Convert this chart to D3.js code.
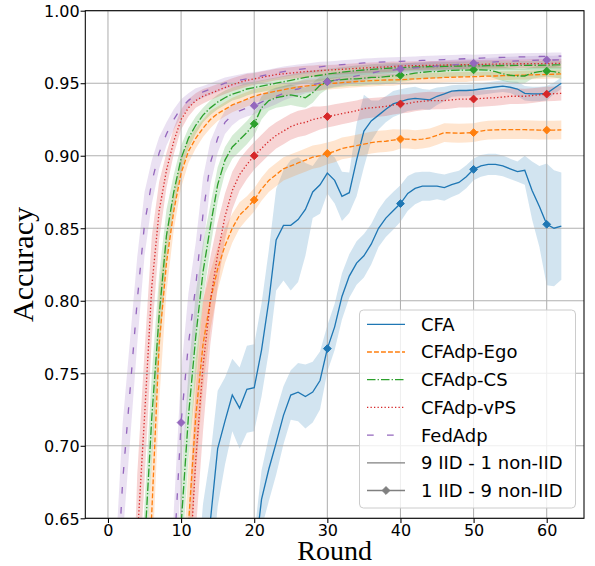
<!DOCTYPE html>
<html>
<head>
<meta charset="utf-8">
<script src="https://cdn.jsdelivr.net/npm/d3@7"></script>
<style>
  body { margin: 0; background: #fff; }
  svg { display: block; }
</style>
</head>
<body>
<svg id="chart" width="595" height="566"></svg>
<script>
// Communication rounds 0..62
const rounds = d3.range(0, 63);

// Mean accuracy and standard deviation per round.
// "IID" = 9 IID - 1 non-IID, "Non" = 1 IID - 9 non-IID
const cfaIID = [
  0.10, 0.12, 0.15, 0.18, 0.22, 0.26, 0.30, 0.35, 0.40, 0.44,
  0.48, 0.51, 0.55, 0.61, 0.648, 0.698, 0.717, 0.735, 0.726, 0.739,
  0.740, 0.766, 0.800, 0.842, 0.852, 0.852, 0.856, 0.863, 0.875, 0.880,
  0.888, 0.883, 0.872, 0.8745, 0.897, 0.917, 0.924, 0.928, 0.932, 0.9357,
  0.9373, 0.9389, 0.9396, 0.939, 0.9385, 0.941, 0.9426, 0.9446, 0.945, 0.945,
  0.9453, 0.946, 0.9467, 0.9474, 0.948, 0.9472, 0.946, 0.943, 0.9426, 0.9426,
  0.943, 0.9465, 0.950
];
const cfaIIDsd = [
  0.02, 0.02, 0.02, 0.02, 0.02, 0.02, 0.02, 0.02, 0.02, 0.02,
  0.03, 0.04, 0.05, 0.05, 0.045, 0.04, 0.03, 0.025, 0.028, 0.03,
  0.03, 0.032, 0.035, 0.035, 0.038, 0.045, 0.043, 0.032, 0.018, 0.02,
  0.014, 0.016, 0.017, 0.014, 0.025, 0.025, 0.014, 0.01, 0.009, 0.009,
  0.0085, 0.008, 0.008, 0.007, 0.007, 0.006, 0.005, 0.004, 0.004, 0.004,
  0.004, 0.004, 0.004, 0.004, 0.004, 0.004, 0.005, 0.005, 0.005, 0.005,
  0.005, 0.004, 0.004
];
const cfaNon = [
  0.10, 0.12, 0.14, 0.17, 0.20, 0.23, 0.26, 0.29, 0.32, 0.35,
  0.38, 0.41, 0.44, 0.46, 0.48, 0.50, 0.52, 0.54, 0.56, 0.58,
  0.62, 0.663, 0.684, 0.702, 0.721, 0.735, 0.737, 0.734, 0.737, 0.745,
  0.767, 0.782, 0.803, 0.817, 0.826, 0.831, 0.839, 0.850, 0.857, 0.862,
  0.867, 0.874, 0.8775, 0.879, 0.879, 0.879, 0.878, 0.880, 0.8816, 0.8855,
  0.8906, 0.893, 0.894, 0.894, 0.893, 0.891, 0.889, 0.890, 0.876, 0.865,
  0.8527, 0.850, 0.8515
];
const cfaNonSd = [
  0.015, 0.015, 0.015, 0.015, 0.015, 0.015, 0.015, 0.015, 0.015, 0.015,
  0.015, 0.015, 0.015, 0.015, 0.015, 0.015, 0.015, 0.015, 0.015, 0.015,
  0.018, 0.02, 0.022, 0.022, 0.02, 0.017, 0.02, 0.022, 0.021, 0.02,
  0.016, 0.016, 0.016, 0.015, 0.015, 0.015, 0.014, 0.013, 0.013, 0.013,
  0.0126, 0.012, 0.011, 0.01, 0.01, 0.009, 0.009, 0.0085, 0.008, 0.008,
  0.0075, 0.0075, 0.0073, 0.0073, 0.0072, 0.007, 0.007, 0.01, 0.02, 0.028,
  0.042, 0.04, 0.037
];

const egoIID = [
  0.10, 0.15, 0.22, 0.32, 0.43, 0.55, 0.655, 0.77, 0.826, 0.862,
  0.888, 0.903, 0.912, 0.919, 0.925, 0.929, 0.932, 0.935, 0.937, 0.939,
  0.941, 0.9425, 0.9435, 0.9445, 0.9455, 0.9465, 0.9473, 0.948, 0.9485, 0.949,
  0.9495, 0.950, 0.9504, 0.9508, 0.9512, 0.9515, 0.9518, 0.952, 0.9522, 0.9523,
  0.9524, 0.9527, 0.953, 0.9532, 0.9535, 0.9537, 0.954, 0.9541, 0.9543, 0.9544,
  0.9545, 0.9547, 0.9549, 0.955, 0.9552, 0.9553, 0.9555, 0.9556, 0.9558, 0.9559,
  0.956, 0.9562, 0.9565
];
const egoIIDsd = [
  0.03, 0.03, 0.03, 0.03, 0.035, 0.04, 0.04, 0.04, 0.02, 0.013,
  0.01, 0.008, 0.007, 0.006, 0.006, 0.005, 0.005, 0.005, 0.005, 0.005,
  0.005, 0.0045, 0.0045, 0.0045, 0.0045, 0.004, 0.004, 0.004, 0.004, 0.004,
  0.004, 0.004, 0.004, 0.004, 0.004, 0.004, 0.004, 0.004, 0.004, 0.004,
  0.0035, 0.0035, 0.0035, 0.0035, 0.0035, 0.0035, 0.0035, 0.0035, 0.0035, 0.0035,
  0.003, 0.003, 0.003, 0.003, 0.003, 0.003, 0.003, 0.003, 0.003, 0.003,
  0.003, 0.003, 0.003
];
const egoNon = [
  0.10, 0.12, 0.15, 0.18, 0.22, 0.27, 0.32, 0.37, 0.42, 0.48,
  0.56, 0.645, 0.72, 0.77, 0.80, 0.822, 0.838, 0.85, 0.859, 0.864,
  0.8695, 0.877, 0.883, 0.887, 0.891, 0.893, 0.895, 0.897, 0.899, 0.900,
  0.9016, 0.903, 0.905, 0.906, 0.907, 0.908, 0.909, 0.9097, 0.910, 0.9108,
  0.9115, 0.9115, 0.911, 0.9115, 0.9123, 0.914, 0.9159, 0.9157, 0.9155, 0.9157,
  0.9159, 0.917, 0.9177, 0.9178, 0.918, 0.918, 0.918, 0.918, 0.9178, 0.9177,
  0.9177, 0.9177, 0.9178
];
const egoNonSd = [
  0.03, 0.03, 0.03, 0.03, 0.03, 0.03, 0.03, 0.03, 0.03, 0.035,
  0.04, 0.04, 0.04, 0.03, 0.02, 0.015, 0.012, 0.01, 0.009, 0.008,
  0.008, 0.008, 0.008, 0.008, 0.008, 0.008, 0.008, 0.008, 0.008, 0.008,
  0.0075, 0.0075, 0.0075, 0.0075, 0.0075, 0.0075, 0.0075, 0.0075, 0.0075, 0.0075,
  0.0065, 0.0065, 0.0065, 0.0065, 0.0065, 0.0065, 0.0065, 0.0065, 0.0065, 0.0065,
  0.0065, 0.0065, 0.0065, 0.0065, 0.0065, 0.0065, 0.0065, 0.0065, 0.0065, 0.0065,
  0.0065, 0.0065, 0.0065
];

const csIID = [
  0.10, 0.18, 0.28, 0.40, 0.52, 0.63, 0.72, 0.79, 0.845, 0.875,
  0.898, 0.912, 0.921, 0.928, 0.933, 0.937, 0.940, 0.9425, 0.944, 0.946,
  0.947, 0.948, 0.949, 0.950, 0.951, 0.952, 0.953, 0.954, 0.9548, 0.9555,
  0.9563, 0.957, 0.9576, 0.9582, 0.9587, 0.9591, 0.9595, 0.9599, 0.9602, 0.9605,
  0.9608, 0.961, 0.9612, 0.9613, 0.9614, 0.9615, 0.9616, 0.9617, 0.9618, 0.9619,
  0.962, 0.962, 0.9621, 0.9621, 0.9622, 0.9622, 0.9623, 0.9623, 0.9624, 0.9624,
  0.9625, 0.9626, 0.9627
];
const csIIDsd = [
  0.03, 0.03, 0.03, 0.03, 0.03, 0.03, 0.03, 0.028, 0.018, 0.012,
  0.009, 0.007, 0.006, 0.005, 0.005, 0.005, 0.005, 0.0045, 0.0045, 0.0045,
  0.004, 0.004, 0.004, 0.004, 0.004, 0.004, 0.004, 0.004, 0.004, 0.004,
  0.0035, 0.0035, 0.0035, 0.0035, 0.0035, 0.0035, 0.0035, 0.0035, 0.0035, 0.0035,
  0.003, 0.003, 0.003, 0.003, 0.003, 0.003, 0.003, 0.003, 0.003, 0.003,
  0.003, 0.003, 0.003, 0.003, 0.003, 0.003, 0.003, 0.003, 0.003, 0.003,
  0.003, 0.003, 0.003
];
const csNon = [
  0.10, 0.12, 0.15, 0.18, 0.22, 0.26, 0.30, 0.35, 0.40, 0.52,
  0.645, 0.72, 0.775, 0.82, 0.851, 0.88, 0.897, 0.906, 0.911, 0.916,
  0.922, 0.933, 0.938, 0.940, 0.941, 0.942, 0.941, 0.940, 0.9435, 0.9485,
  0.951, 0.952, 0.9525, 0.953, 0.953, 0.9535, 0.954, 0.954, 0.9545, 0.955,
  0.9555, 0.956, 0.957, 0.9575, 0.958, 0.958, 0.9585, 0.9588, 0.959, 0.959,
  0.9592, 0.9592, 0.959, 0.958, 0.9565, 0.9555, 0.955, 0.955, 0.957, 0.958,
  0.9584, 0.958, 0.957
];
const csNonSd = [
  0.03, 0.03, 0.03, 0.03, 0.03, 0.03, 0.03, 0.03, 0.03, 0.03,
  0.03, 0.03, 0.03, 0.02, 0.015, 0.012, 0.009, 0.008, 0.008, 0.008,
  0.008, 0.008, 0.007, 0.007, 0.007, 0.007, 0.007, 0.007, 0.007, 0.006,
  0.005, 0.005, 0.005, 0.005, 0.005, 0.005, 0.005, 0.005, 0.005, 0.005,
  0.0045, 0.0045, 0.0045, 0.0045, 0.0045, 0.0045, 0.0045, 0.0045, 0.0045, 0.0045,
  0.004, 0.004, 0.004, 0.005, 0.005, 0.005, 0.005, 0.005, 0.004, 0.004,
  0.004, 0.004, 0.004
];

const vpsIID = [
  0.10, 0.20, 0.32, 0.48, 0.635, 0.72, 0.81, 0.862, 0.89, 0.91,
  0.925, 0.933, 0.938, 0.941, 0.943, 0.945, 0.947, 0.949, 0.9505, 0.952,
  0.953, 0.954, 0.955, 0.956, 0.9565, 0.957, 0.9575, 0.958, 0.9583, 0.9587,
  0.959, 0.9593, 0.9596, 0.9599, 0.9602, 0.9605, 0.9608, 0.961, 0.9612, 0.9615,
  0.9618, 0.962, 0.9621, 0.9622, 0.9623, 0.9624, 0.9625, 0.9626, 0.9627, 0.9628,
  0.963, 0.963, 0.9631, 0.9632, 0.9633, 0.9633, 0.9634, 0.9634, 0.9635, 0.9635,
  0.9635, 0.9636, 0.9637
];
const vpsIIDsd = [
  0.04, 0.04, 0.04, 0.045, 0.045, 0.045, 0.035, 0.02, 0.012, 0.009,
  0.007, 0.006, 0.005, 0.005, 0.0045, 0.0045, 0.0045, 0.0045, 0.0045, 0.0045,
  0.004, 0.004, 0.004, 0.004, 0.004, 0.004, 0.004, 0.004, 0.004, 0.004,
  0.0035, 0.0035, 0.0035, 0.0035, 0.0035, 0.0035, 0.0035, 0.0035, 0.0035, 0.0035,
  0.003, 0.003, 0.003, 0.003, 0.003, 0.003, 0.003, 0.003, 0.003, 0.003,
  0.003, 0.003, 0.003, 0.003, 0.003, 0.003, 0.003, 0.003, 0.003, 0.003,
  0.003, 0.003, 0.003
];
const vpsNon = [
  0.10, 0.12, 0.15, 0.18, 0.22, 0.26, 0.30, 0.35, 0.40, 0.45,
  0.52, 0.60, 0.69, 0.755, 0.80, 0.832, 0.858, 0.876, 0.887, 0.894,
  0.900, 0.905, 0.910, 0.914, 0.917, 0.920, 0.922, 0.923, 0.925, 0.926,
  0.927, 0.928, 0.929, 0.930, 0.931, 0.9325, 0.933, 0.9335, 0.934, 0.935,
  0.9357, 0.936, 0.937, 0.9375, 0.938, 0.938, 0.938, 0.9385, 0.939, 0.939,
  0.9391, 0.9395, 0.9398, 0.940, 0.9405, 0.941, 0.941, 0.941, 0.9415, 0.942,
  0.9425, 0.9428, 0.943
];
const vpsNonSd = [
  0.04, 0.04, 0.04, 0.04, 0.04, 0.04, 0.04, 0.04, 0.04, 0.04,
  0.045, 0.05, 0.05, 0.045, 0.03, 0.022, 0.016, 0.013, 0.011, 0.01,
  0.0095, 0.0095, 0.0095, 0.009, 0.009, 0.009, 0.009, 0.009, 0.009, 0.008,
  0.0075, 0.0075, 0.0073, 0.0072, 0.007, 0.007, 0.0068, 0.0067, 0.0066, 0.0065,
  0.0065, 0.0064, 0.0063, 0.0062, 0.0061, 0.006, 0.006, 0.006, 0.0058, 0.0058,
  0.0057, 0.0057, 0.0056, 0.0055, 0.0055, 0.0054, 0.0053, 0.0052, 0.0051, 0.005,
  0.005, 0.005, 0.005
];

const fedIID = [
  0.35, 0.58, 0.675, 0.737, 0.80, 0.853, 0.882, 0.902, 0.915, 0.925,
  0.933, 0.938, 0.942, 0.944, 0.946, 0.948, 0.950, 0.951, 0.952, 0.953,
  0.954, 0.955, 0.956, 0.957, 0.958, 0.9587, 0.9594, 0.960, 0.9606, 0.9613,
  0.962, 0.9624, 0.9628, 0.9632, 0.9636, 0.964, 0.9642, 0.9645, 0.9647, 0.9649,
  0.9651, 0.9653, 0.9655, 0.9657, 0.9659, 0.9661, 0.9663, 0.9665, 0.9667, 0.9669,
  0.9671, 0.9673, 0.9675, 0.9677, 0.9678, 0.968, 0.9681, 0.9682, 0.9683, 0.9684,
  0.9685, 0.9686, 0.9687
];
const fedIIDsd = [
  0.04, 0.04, 0.04, 0.035, 0.03, 0.022, 0.015, 0.011, 0.008, 0.007,
  0.006, 0.005, 0.0045, 0.004, 0.004, 0.004, 0.004, 0.004, 0.004, 0.004,
  0.0035, 0.0035, 0.0035, 0.0035, 0.0035, 0.0035, 0.0035, 0.0035, 0.0035, 0.0035,
  0.003, 0.003, 0.003, 0.003, 0.003, 0.003, 0.003, 0.003, 0.003, 0.003,
  0.003, 0.003, 0.003, 0.003, 0.003, 0.003, 0.003, 0.003, 0.003, 0.003,
  0.0025, 0.0025, 0.0025, 0.0025, 0.0025, 0.0025, 0.0025, 0.0025, 0.0025, 0.0025,
  0.0025, 0.0025, 0.0025
];
const fedNon = [
  0.10, 0.12, 0.15, 0.18, 0.22, 0.27, 0.33, 0.41, 0.50, 0.62,
  0.716, 0.77, 0.81, 0.86, 0.895, 0.912, 0.923, 0.928, 0.931, 0.933,
  0.9345, 0.937, 0.939, 0.941, 0.943, 0.945, 0.946, 0.948, 0.949, 0.950,
  0.951, 0.952, 0.953, 0.954, 0.955, 0.956, 0.957, 0.958, 0.9585, 0.959,
  0.9598, 0.9602, 0.9606, 0.961, 0.9614, 0.9618, 0.9622, 0.9626, 0.963, 0.9634,
  0.9638, 0.9641, 0.9644, 0.9647, 0.965, 0.9652, 0.9654, 0.9656, 0.9658, 0.9659,
  0.966, 0.966, 0.9662
];
const fedNonSd = [
  0.03, 0.03, 0.03, 0.03, 0.03, 0.03, 0.03, 0.03, 0.03, 0.035,
  0.035, 0.035, 0.03, 0.025, 0.015, 0.01, 0.008, 0.007, 0.006, 0.006,
  0.006, 0.0055, 0.0055, 0.0055, 0.005, 0.005, 0.005, 0.005, 0.005, 0.005,
  0.0045, 0.0045, 0.0045, 0.0045, 0.0045, 0.004, 0.004, 0.004, 0.004, 0.004,
  0.0035, 0.0035, 0.0035, 0.0035, 0.0035, 0.0035, 0.0035, 0.0035, 0.0035, 0.0035,
  0.003, 0.003, 0.003, 0.003, 0.003, 0.003, 0.003, 0.003, 0.003, 0.003,
  0.003, 0.003, 0.003
];

const methodNames = ["CFA", "CFAdp-Ego", "CFAdp-CS", "CFAdp-vPS", "FedAdp"];
const scenarioNames = ["9 IID - 1 non-IID", "1 IID - 9 non-IID"];
const xTicks = [0, 10, 20, 30, 40, 50, 60];
const yTicks = [0.65, 0.70, 0.75, 0.80, 0.85, 0.90, 0.95, 1.00];

// ---- styling ----
const colors = ["#1f77b4", "#ff7f0e", "#2ca02c", "#d62728", "#9467bd"];
const dashes = [null, "4.9,2.1", "8.5,2.1,1.3,2.1", "1.3,2.2", "6.7,13.3"];
const lineW = 1.33;

const methods = [
  { name: methodNames[0], iid: cfaIID, iidSd: cfaIIDsd, non: cfaNon, nonSd: cfaNonSd },
  { name: methodNames[1], iid: egoIID, iidSd: egoIIDsd, non: egoNon, nonSd: egoNonSd },
  { name: methodNames[2], iid: csIID,  iidSd: csIIDsd,  non: csNon,  nonSd: csNonSd },
  { name: methodNames[3], iid: vpsIID, iidSd: vpsIIDsd, non: vpsNon, nonSd: vpsNonSd },
  { name: methodNames[4], iid: fedIID, iidSd: fedIIDsd, non: fedNon, nonSd: fedNonSd }
].map((m, i) => ({ ...m, color: colors[i], dash: dashes[i] }));

const svg = d3.select("#chart");
const box = { left: 85.3, right: 584, top: 10.7, bottom: 518.3 };

const x = d3.scaleLinear().domain([-3.1, 65.1]).range([box.left, box.right]);
const y = d3.scaleLinear().domain([0.65, 1.0]).range([box.bottom, box.top]);

svg.append("defs").append("clipPath").attr("id", "plotClip")
  .append("rect")
  .attr("x", box.left).attr("y", box.top)
  .attr("width", box.right - box.left).attr("height", box.bottom - box.top);

const plot = svg.append("g").attr("clip-path", "url(#plotClip)");

const band = (mean, sd) => d3.area()
  .x(r => x(r))
  .y0(r => y(mean[r] - sd[r]))
  .y1(r => y(mean[r] + sd[r]));

const line = (mean) => d3.line().x(r => x(r)).y(r => y(mean[r]));

// shaded ±1 std bands (drawn beneath grid and lines)
const bands = plot.append("g");
methods.forEach(m => {
  bands.append("path").attr("d", band(m.iid, m.iidSd)(rounds))
    .attr("fill", m.color).attr("fill-opacity", 0.2).attr("stroke", "none");
  bands.append("path").attr("d", band(m.non, m.nonSd)(rounds))
    .attr("fill", m.color).attr("fill-opacity", 0.2).attr("stroke", "none");
});

// grid
const grid = svg.append("g").attr("stroke", "#b0b0b0").attr("stroke-width", 1.05);
xTicks.forEach(t => grid.append("line")
  .attr("x1", x(t)).attr("x2", x(t)).attr("y1", box.top).attr("y2", box.bottom));
yTicks.forEach(t => grid.append("line")
  .attr("x1", box.left).attr("x2", box.right).attr("y1", y(t)).attr("y2", y(t)));

// mean curves; the 1 IID - 9 non-IID runs carry a diamond every 10 rounds
const diamond = "M0,-3.9L3.9,0L0,3.9L-3.9,0Z";
const lines = svg.append("g").attr("clip-path", "url(#plotClip)");
methods.forEach(m => {
  lines.append("path").attr("d", line(m.iid)(rounds))
    .attr("fill", "none").attr("stroke", m.color).attr("stroke-width", lineW)
    .attr("stroke-dasharray", m.dash);
  lines.append("path").attr("d", line(m.non)(rounds))
    .attr("fill", "none").attr("stroke", m.color).attr("stroke-width", lineW)
    .attr("stroke-dasharray", m.dash);
  lines.selectAll(null)
    .data(rounds.filter(r => r % 10 === 0))
    .enter().append("path")
    .attr("d", diamond)
    .attr("transform", r => `translate(${x(r)},${y(m.non[r])})`)
    .attr("fill", m.color).attr("stroke", m.color).attr("stroke-width", 1);
});

// axes
const xAxis = d3.axisBottom(x).tickValues(xTicks).tickSize(4.7).tickPadding(2)
  .tickFormat(d3.format("d"));
const yAxis = d3.axisLeft(y).tickValues(yTicks).tickSize(4.7).tickPadding(1)
  .tickFormat(d3.format(".2f"));

const gx = svg.append("g").attr("transform", `translate(0,${box.bottom})`).call(xAxis);
const gy = svg.append("g").attr("transform", `translate(${box.left},0)`).call(yAxis);
[gx, gy].forEach(g => {
  g.select(".domain").remove();
  g.selectAll(".tick line").attr("stroke", "#000").attr("stroke-width", 1.05);
  g.selectAll(".tick text").attr("fill", "#000")
    .style("font-family", "'DejaVu Sans', sans-serif").style("font-size", "16px");
});
gy.selectAll(".tick text").attr("dy", "0.36em");

// frame
svg.append("rect")
  .attr("x", box.left).attr("y", box.top)
  .attr("width", box.right - box.left).attr("height", box.bottom - box.top)
  .attr("fill", "none").attr("stroke", "#000").attr("stroke-width", 1.05);

// axis titles
svg.append("text")
  .attr("x", (box.left + box.right) / 2).attr("y", 560)
  .attr("text-anchor", "middle")
  .style("font-family", "'Liberation Serif', 'Times New Roman', serif")
  .style("font-size", "28px")
  .text("Round");
svg.append("text")
  .attr("transform", `translate(33,${(box.top + box.bottom) / 2}) rotate(-90)`)
  .attr("text-anchor", "middle")
  .style("font-family", "'Liberation Serif', 'Times New Roman', serif")
  .style("font-size", "30px")
  .text("Accuracy");

// legend
const legend = svg.append("g");
legend.append("rect")
  .attr("x", 359.5).attr("y", 310).attr("width", 216).attr("height", 198)
  .attr("rx", 4).attr("ry", 4)
  .attr("fill", "#fff").attr("fill-opacity", 0.8)
  .attr("stroke", "#cccccc").attr("stroke-width", 1);

const legendItems = methods.map(m => ({ label: m.name, color: m.color, dash: m.dash, marker: false }))
  .concat([
    { label: scenarioNames[0], color: "#808080", dash: null, marker: false },
    { label: scenarioNames[1], color: "#808080", dash: null, marker: true }
  ]);

legendItems.forEach((d, i) => {
  const cy = 324.3 + i * 27.7;
  legend.append("line")
    .attr("x1", 367).attr("x2", 405).attr("y1", cy).attr("y2", cy)
    .attr("stroke", d.color).attr("stroke-width", lineW)
    .attr("stroke-dasharray", d.dash);
  if (d.marker) {
    legend.append("path").attr("d", diamond)
      .attr("transform", `translate(386,${cy})`)
      .attr("fill", d.color).attr("stroke", d.color);
  }
  legend.append("text")
    .attr("x", 421).attr("y", cy).attr("dy", "0.36em")
    .style("font-family", "'DejaVu Sans', sans-serif").style("font-size", "18px")
    .attr("fill", "#000")
    .text(d.label);
});
</script>
</body>
</html>
